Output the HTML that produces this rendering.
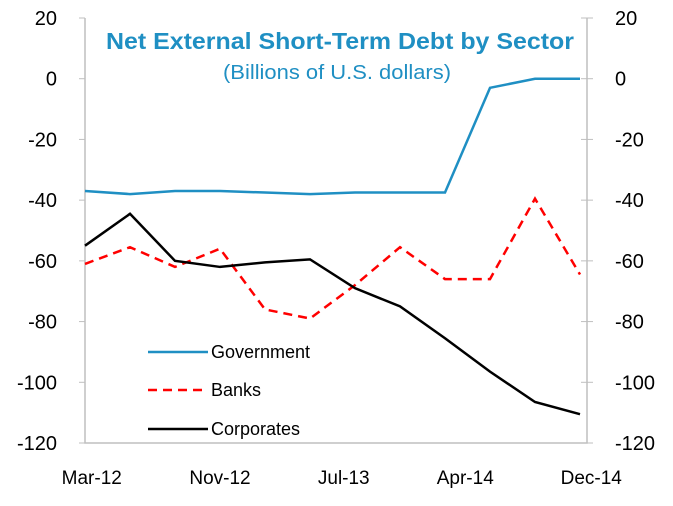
<!DOCTYPE html>
<html><head><meta charset="utf-8"><style>
body{margin:0;background:#fff;}
svg text{font-family:"Liberation Sans",sans-serif;}
</style></head><body>
<svg width="673" height="501">
<g id="axes"></g>
<text x="340" y="49" text-anchor="middle" font-size="23" font-weight="bold" fill="#1f8fc3" textLength="468" lengthAdjust="spacingAndGlyphs">Net External Short-Term Debt by Sector</text>
<text x="337" y="79" text-anchor="middle" font-size="20" fill="#1f8fc3" textLength="228" lengthAdjust="spacingAndGlyphs">(Billions of U.S. dollars)</text>
<g id="series"></g>
<g id="legend"></g>
</svg>
<script>
const categories=["Mar-12","Jun-12","Sep-12","Dec-12","Mar-13","Jun-13","Sep-13","Dec-13","Mar-14","Jun-14","Sep-14","Dec-14"];
const government=[-37,-38,-37,-37,-37.5,-38,-37.5,-37.5,-37.5,-3,0,0];
const banks=[-61,-55.5,-62,-56,-76,-79,-68,-55.5,-66,-66,-39.5,-64.5];
const corporates=[-55,-44.5,-60,-62,-60.5,-59.5,-69,-75,-85.5,-96.5,-106.5,-110.5];
const yTicks=[20,0,-20,-40,-60,-80,-100,-120];
const xLabels=["Mar-12","Nov-12","Jul-13","Apr-14","Dec-14"];
const xLabelPos=[0.15,3.0,5.75,8.45,11.25];
const NS="http://www.w3.org/2000/svg";
const L=85,R=587,T=18,B=443;
const x=i=>L+i*45;
const y=v=>T+(20-v)*(B-T)/140;
function mk(t,a,p){const e=document.createElementNS(NS,t);for(const k in a)e.setAttribute(k,a[k]);p.appendChild(e);return e;}
const ax=document.getElementById('axes');
let e=mk('path',{d:`M${L},${T}V${B}H${R}V${T}`,fill:'none',stroke:'#bfbfbf','stroke-width':1.5},ax);


yTicks.forEach(v=>{
 let t=mk('line',{x1:L-6,x2:L,y1:y(v),y2:y(v),stroke:'#bfbfbf'},ax);
 
 
 let t2=mk('line',{x1:R-6,x2:R+6,y1:y(v),y2:y(v),stroke:'#bfbfbf'},ax);
 
 
 let a=mk('text',{x:57,y:y(v)+7,'text-anchor':'end','font-size':20},ax);a.textContent=v;
 
 
 let b=mk('text',{x:615,y:y(v)+7,'text-anchor':'start','font-size':20},ax);b.textContent=v;
 
 
});
xLabels.forEach((s,i)=>{
 let a=mk('text',{x:x(xLabelPos[i]),y:484,'text-anchor':'middle','font-size':19},ax);a.textContent=s;
 
 
});
const sg=document.getElementById('series');
function line(d,c,dash,name){
 let p=mk('polyline',{points:d.map((v,i)=>x(i)+','+y(v)).join(' '),fill:'none',stroke:c,'stroke-width':2.5,'stroke-dasharray':dash||'none'},sg);
 
 
}
line(government,'#1f8fc3','','government-line');
line(banks,'#ff0000','9,6','banks-line');
line(corporates,'#000','','corporates-line');
const lg=document.getElementById('legend');
[["Government",'#1f8fc3','',352],["Banks",'#ff0000','9,6',390],["Corporates",'#000','',429]].forEach(r=>{
 let l=mk('line',{x1:148,x2:208,y1:r[3],y2:r[3],stroke:r[1],'stroke-width':2.5,'stroke-dasharray':r[2]||'none'},lg);
 
 
 let t=mk('text',{x:211,y:r[3]+6,'font-size':18},lg);t.textContent=r[0];
 
 
});
</script>
</body></html>
